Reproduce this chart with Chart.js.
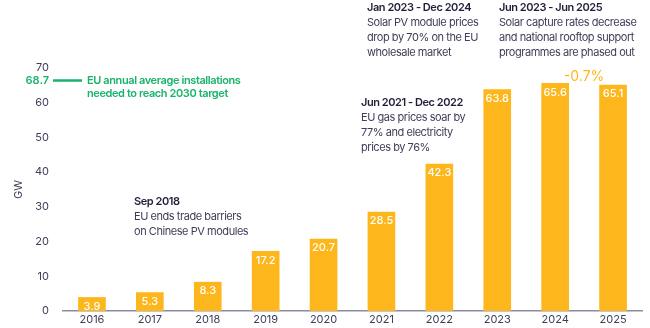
<!DOCTYPE html>
<html>
<head>
<meta charset="utf-8">
<script src="https://cdn.jsdelivr.net/npm/chart.js@4"></script>
<style>
  html, body { margin: 0; padding: 0; background: #fff; }
  #wrap { width: 650px; height: 328px; }
</style>
</head>
<body>
<div id="wrap"><canvas id="chart" width="650" height="328"></canvas></div>
<script>
// Datos del gráfico
const years = ['2016', '2017', '2018', '2019', '2020', '2021', '2022', '2023', '2024', '2025'];
const gwValues = [3.9, 5.3, 8.3, 17.2, 20.7, 28.5, 42.3, 63.8, 65.6, 65.1];
const yTicks = [0, 10, 20, 30, 40, 50, 60, 70];
const targetValue = 68.7;
const targetText = ['EU annual average installations', 'needed to reach 2030 target'];
const changeText = '-0.7%';

// Notas de texto (título + líneas)
const notes = [
  { x: 134, y: 202, title: 'Sep 2018', lines: ['EU ends trade barriers', 'on Chinese PV modules'] },
  { x: 361, y: 103, title: 'Jun 2021 - Dec 2022', lines: ['EU gas prices soar by', '77% and electricity', 'prices by 76%'] },
  { x: 367, y: 8, title: 'Jan 2023 - Dec 2024', lines: ['Solar PV module prices', 'drop by 70% on the EU', 'wholesale market'] },
  { x: 499, y: 8, title: 'Jun 2023 - Jun 2025', lines: ['Solar capture rates decrease', 'and national rooftop support', 'programmes are phased out'] }
];

const FONT = 'Inter, "Noto Sans", sans-serif';
const ORANGE = '#FDB71C';
const GREEN = '#19B36B';
const DARK = '#1F1F3A';
const GREY = '#3E3E58';

// Plugin: etiquetas, línea objetivo y notas
const extrasPlugin = {
  id: 'extras',
  afterDatasetsDraw(chart) {
    const ctx = chart.ctx;
    const meta = chart.getDatasetMeta(0);
    const yScale = chart.scales.y;
    ctx.save();

    // valores dentro de las barras
    ctx.font = '500 11px ' + FONT;
    ctx.fillStyle = '#ffffff';
    ctx.textAlign = 'center';
    ctx.textBaseline = 'middle';
    meta.data.forEach((bar, i) => {
      ctx.fillText(gwValues[i].toFixed(1), bar.x, bar.y + 9);
    });

    // variación 2024 -> 2025
    const b8 = meta.data[8], b9 = meta.data[9];
    ctx.font = '14px ' + FONT;
    ctx.fillStyle = ORANGE;
    ctx.fillText(changeText, (b8.x + b9.x) / 2, b8.y - 6);

    // línea objetivo
    const ty = yScale.getPixelForValue(targetValue) + 8;
    ctx.strokeStyle = GREEN;
    ctx.lineWidth = 2.5;
    ctx.beginPath();
    ctx.moveTo(53, ty);
    ctx.lineTo(82, ty);
    ctx.stroke();
    ctx.font = '600 11px ' + FONT;
    ctx.fillStyle = GREEN;
    ctx.textAlign = 'right';
    ctx.fillText(targetValue.toFixed(1), 49, ty);
    ctx.textAlign = 'left';
    ctx.letterSpacing = '-0.4px';
    ctx.fillText(targetText[0], 87, ty);
    ctx.fillText(targetText[1], 87, ty + 13);

    // notas
    notes.forEach(n => {
      ctx.letterSpacing = '-0.45px';
      ctx.font = '600 11px ' + FONT;
      ctx.fillStyle = DARK;
      ctx.fillText(n.title, n.x, n.y);
      ctx.font = '11px ' + FONT;
      ctx.fillStyle = GREY;
      n.lines.forEach((l, j) => ctx.fillText(l, n.x, n.y + 15 * (j + 1)));
    });

    ctx.restore();
  }
};

const ctx = document.getElementById('chart').getContext('2d');
new Chart(ctx, {
  type: 'bar',
  data: {
    labels: years,
    datasets: [{
      data: gwValues,
      backgroundColor: ORANGE,
      borderWidth: 0,
      barThickness: 27,
      categoryPercentage: 1
    }]
  },
  options: {
    responsive: false,
    animation: false,
    layout: { padding: { top: 68, right: 8, left: 0, bottom: 0 } },
    plugins: { legend: { display: false }, tooltip: { enabled: false } },
    scales: {
      x: {
        grid: { display: false, drawTicks: false },
        border: { display: true, color: '#8C8C9C', width: 1.5 },
        ticks: { color: GREY, font: { family: FONT, size: 11 }, padding: 2, maxRotation: 0 },
        afterFit(scale) { scale.height = 17; scale.paddingLeft = 0; scale.paddingRight = 0; }
      },
      y: {
        min: 0,
        max: 70,
        afterBuildTicks(scale) { scale.ticks = yTicks.map(v => ({ value: v })); },
        grid: { display: false, drawTicks: false },
        border: { display: false },
        ticks: { color: GREY, font: { family: FONT, size: 11 }, padding: 14 },
        title: { display: true, text: 'GW', color: GREY, font: { family: FONT, size: 11 }, padding: { top: 12, bottom: 0 } },
        afterFit(scale) { scale.width = 63; scale.paddingTop = 0; scale.paddingBottom = 0; }
      }
    }
  },
  plugins: [extrasPlugin]
});
</script>
</body>
</html>
